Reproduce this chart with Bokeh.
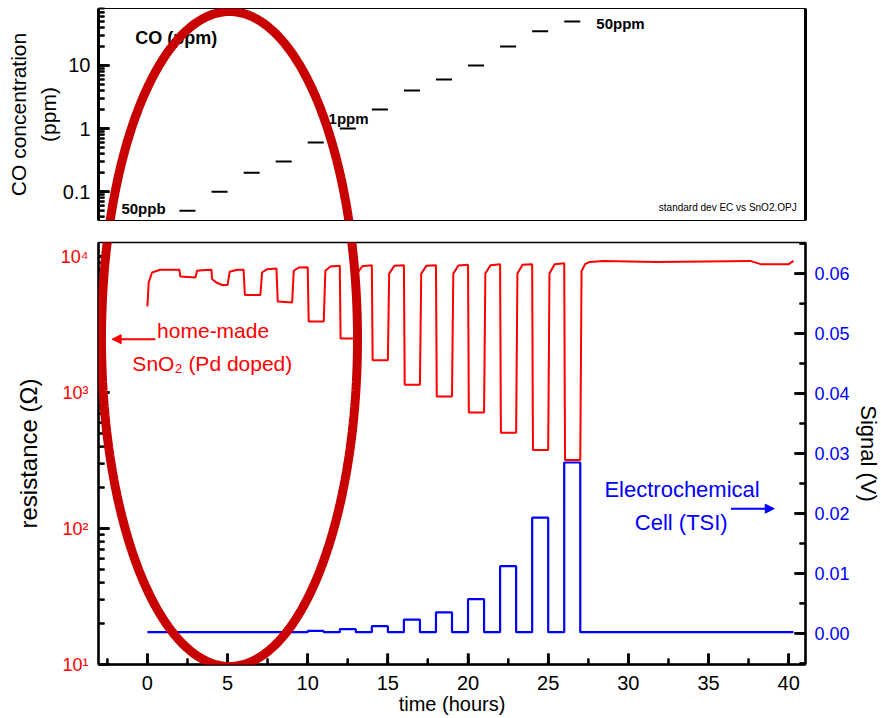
import math
from bokeh.plotting import figure
from bokeh.layouts import column
from bokeh.models import (Range1d, LinearAxis, LinearScale, SingleIntervalTicker, FixedTicker,
                          NumeralTickFormatter, CustomJSTickFormatter, Label, Arrow,
                          NormalHead, PolyAnnotation)
from bokeh.embed import file_html
from bokeh.resources import INLINE

FONT = "Liberation Sans"
RED = "#ff0000"
BLUE = "#0000ff"

# ---------------- data ----------------
exp_start = [2, 4, 6, 8, 10, 12, 14, 16, 18, 20, 22, 24, 26]          # hours
exp_len = 1.0
co_ppm = [0.05, 0.1, 0.2, 0.3, 0.6, 1, 2, 4, 6, 10, 20, 35, 50]

# SnO2 resistance trace (ohm), vertices
res_t = [0.00, 0.08, 0.29, 0.8, 2.0,
         2.05, 3.0, 3.1, 3.4, 4.0,
         4.03, 4.3, 4.66, 5.0, 5.13, 5.6, 6.0,
         6.08, 7.05, 7.15, 7.47, 8.05,
         8.13, 9.03, 9.13, 9.44, 10.0,
         10.06, 11.0, 11.1, 11.42, 12.0,
         12.05, 13.0, 13.08, 13.4, 14.0,
         14.05, 15.0, 15.08, 15.4, 16.0,
         16.05, 17.0, 17.08, 17.4, 18.0,
         18.05, 19.0, 19.08, 19.4, 20.0,
         20.05, 21.0, 21.08, 21.4, 22.0,
         22.05, 23.0, 23.08, 23.4, 24.0,
         24.05, 25.0, 25.08, 25.4, 26.0,
         26.05, 27.0, 27.08, 27.3, 27.6, 28.45, 31.8, 37.6, 38.25, 40.0, 40.3]
res_ohm = [4300, 6450, 7640, 8000, 8000,
           7150, 7030, 7870, 7950, 8000,
           6840, 6450, 6180, 6180, 7730, 8000, 8000,
           5220, 5220, 7640, 8090, 8170,
           4670, 4600, 7870, 8320, 8350,
           3330, 3330, 7870, 8450, 8550,
           2500, 2500, 7500, 8500, 8650,
           1730, 1730, 7500, 8550, 8650,
           1140, 1140, 7500, 8550, 8650,
           935, 935, 7500, 8600, 8700,
           715, 715, 7500, 8650, 8800,
           506, 506, 7500, 8700, 8800,
           378, 378, 7500, 8800, 8950,
           319, 319, 7800, 8800, 9140, 9300, 9140, 9300, 8800, 8800, 9300]

# Electrochemical cell signal (V)
sig_base = 0.0002
sig_level = [0.0002, 0.0002, 0.0002, 0.0002, 0.0004, 0.0007, 0.0012,
             0.0023, 0.0035, 0.0057, 0.0112, 0.0193, 0.0285]
sig_t0, sig_t1 = 0.0, 40.3

# axis tick positions
x_major = [0, 5, 10, 15, 20, 25, 30, 35, 40]
x_minor = [-2.5, 2.5, 7.5, 12.5, 17.5, 22.5, 27.5, 32.5, 37.5]
sig_major = [0.0, 0.01, 0.02, 0.03, 0.04, 0.05, 0.06]
sig_minor = [-0.005, 0.005, 0.015, 0.025, 0.035, 0.045, 0.055, 0.065]
res_major = [10, 100, 1000, 10000]
co_major = [0.1, 1, 10]

X0, X1 = -3.05, 41.05
RES0, RES1 = 10, 12700
CO0, CO1 = 0.035, 80
SIG0, SIG1 = -0.0052, 0.0652


def log_minor(lo, hi):
    out = []
    e = math.floor(math.log10(lo))
    while 10 ** e < hi:
        for m in range(2, 10):
            v = m * 10 ** e
            if lo < v < hi:
                out.append(v)
        e += 1
    return out


# ---------------- build the step trace for the signal ----------------
sig_t = [sig_t0]
sig_v = [sig_base]
for t0, lv in zip(exp_start, sig_level):
    sig_t += [t0, t0, t0 + exp_len, t0 + exp_len]
    sig_v += [sig_base, lv, lv, sig_base]
sig_t.append(sig_t1)
sig_v.append(sig_base)

x_rng = Range1d(X0, X1)


def style_axis(a, label_size, tick_size, tick_color="black"):
    a.axis_label_text_font = FONT
    a.axis_label_text_font_style = "normal"
    a.axis_label_text_color = "black"
    a.axis_label_text_font_size = label_size
    a.major_label_text_font = FONT
    a.major_label_text_font_size = tick_size
    a.major_label_text_color = tick_color
    a.axis_line_color = "black"
    a.axis_line_width = 2.5
    a.major_tick_line_color = "black"
    a.minor_tick_line_color = "black"
    a.major_tick_in = 11
    a.major_tick_out = 0
    a.minor_tick_in = 6
    a.minor_tick_out = 0
    a.major_tick_line_width = 2.5
    a.minor_tick_line_width = 2


def ticks(p, xs, ys, angle, length, width, rng=None):
    kw = dict(y_range_name=rng) if rng else {}
    p.ray(x=xs, y=ys, length=length, angle=angle, length_units="screen",
          line_color="black", line_width=width, **kw)


def make_fig(fh, yr, mb_top, mb_bottom, **kw):
    p = figure(frame_width=707, frame_height=fh, x_range=x_rng, y_range=yr,
               y_axis_type="log", toolbar_location=None, output_backend="svg",
               min_border_left=98, min_border_right=76, min_border_top=mb_top,
               min_border_bottom=mb_bottom, title=None, **kw)
    p.grid.visible = False
    p.outline_line_color = "black"
    p.background_fill_color = None
    p.border_fill_color = None
    return p


# ---------------- top panel ----------------
top = make_fig(212, Range1d(CO0, CO1), 8, 10, x_axis_location=None)
top.outline_line_width = 1.2

ya = top.yaxis[0]
style_axis(ya, "21px", "20px")
ya.axis_label = "CO concentration\n(ppm)"
ya.axis_label_text_line_height = 1.3
ya.axis_label_standoff = 0
ya.major_label_standoff = 8
ya.axis_line_width = 3
ya.formatter = CustomJSTickFormatter(code="return tick >= 1 ? tick.toFixed(0) : tick.toPrecision(1);")

top_r = LinearAxis(ticker=FixedTicker(ticks=[]), axis_line_width=3, axis_line_color="black",
                   major_tick_line_color=None, minor_tick_line_color=None)
top.add_layout(top_r, "right")

co_minor = log_minor(CO0, CO1)
ticks(top, [X0] * len(co_major), co_major, 0, 11, 2.5)
ticks(top, [X0] * len(co_minor), co_minor, 0, 6, 2)

top.segment(x0=exp_start, x1=[t + exp_len for t in exp_start], y0=co_ppm, y1=co_ppm,
            line_color="black", line_width=2)


def lab(p, x, y, text, size, color="black", bold=False, align="left", rng=None):
    kw = dict(x=x, y=y, text=text, text_font=FONT, text_font_size=size,
              text_color=color, text_align=align, text_baseline="middle",
              text_font_style="bold" if bold else "normal")
    if rng:
        kw["y_range_name"] = rng
    p.add_layout(Label(**kw))


lab(top, -0.75, 27, "CO (ppm)", "18px", bold=True)
lab(top, -1.62, 0.054, "50ppb", "15px", bold=True)
lab(top, 11.3, 1.44, "1ppm", "15px", bold=True)
lab(top, 28.0, 46.5, "50ppm", "15px", bold=True)
lab(top, 40.5, 0.056, "standard dev EC vs SnO2.OPJ", "10px", align="right")

# ---------------- bottom panel ----------------
bot = make_fig(422, Range1d(RES0, RES1), 12, 54)
bot.outline_line_width = 1.5
bot.extra_y_ranges = {"sig": Range1d(SIG0, SIG1)}
bot.extra_y_scales = {"sig": LinearScale()}

xa = bot.xaxis[0]
style_axis(xa, "20px", "20px")
xa.ticker = SingleIntervalTicker(interval=5, num_minor_ticks=2)
xa.axis_label = "time (hours)"
xa.axis_label_standoff = 0
xa.major_label_standoff = 11

yl = bot.yaxis[0]
style_axis(yl, "24px", "18px", RED)
yl.axis_label = "resistance (Ω)"
yl.axis_label_standoff = 16
yl.major_label_standoff = 10
yl.formatter = CustomJSTickFormatter(code="""
const sup = {"0":"\u2070","1":"\u00b9","2":"\u00b2","3":"\u00b3","4":"\u2074","5":"\u2075"};
const e = Math.round(Math.log10(tick));
return "10" + String(e).split("").map(c => sup[c] || c).join("");
""")

yr = LinearAxis(y_range_name="sig", ticker=SingleIntervalTicker(interval=0.01, num_minor_ticks=2),
                formatter=NumeralTickFormatter(format="0.00"))
style_axis(yr, "22px", "18px", BLUE)
yr.axis_label = "Signal (V)"
yr.axis_label_standoff = 3
yr.major_label_standoff = 9
bot.add_layout(yr, "right")

# inward ticks on the three axes of the lower panel
res_minor = log_minor(RES0, RES1)
ticks(bot, x_major, [RES0] * len(x_major), math.pi / 2, 11, 2.5)
ticks(bot, x_minor, [RES0] * len(x_minor), math.pi / 2, 6, 2)
ticks(bot, [X0] * len(res_major), res_major, 0, 11, 2.5)
ticks(bot, [X0] * len(res_minor), res_minor, 0, 6, 2)
ticks(bot, [X1] * len(sig_major), sig_major, math.pi, 11, 2.5, rng="sig")
ticks(bot, [X1] * len(sig_minor), sig_minor, math.pi, 6, 2, rng="sig")

bot.line(sig_t, sig_v, y_range_name="sig", line_color=BLUE, line_width=2.2)
bot.line(res_t, res_ohm, line_color=RED, line_width=2)

lab(bot, 4.1, 2870, "home-made", "21px", color=RED, align="center")
lab(bot, 4.05, 1650, "SnO₂ (Pd doped)", "21px", color=RED, align="center")
bot.add_layout(Arrow(end=NormalHead(size=9, fill_color=RED, line_color=RED),
                     x_start=0.5, y_start=2470, x_end=-2.2, y_end=2470,
                     line_color=RED, line_width=2))

lab(bot, 33.35, 0.0240, "Electrochemical", "22px", color=BLUE, align="center", rng="sig")
lab(bot, 33.3, 0.0185, "Cell (TSI)", "22px", color=BLUE, align="center", rng="sig")
bot.add_layout(Arrow(end=NormalHead(size=9, fill_color=BLUE, line_color=BLUE),
                     x_start=36.4, y_start=0.0208, x_end=39.1, y_end=0.0208,
                     y_range_name="sig", line_color=BLUE, line_width=2))

# ---------------- highlight ellipse spanning both panels ----------------
cx, cy, ax_, by_ = 229, 338.5, 128, 327.5
ell_x = [cx + ax_ * math.cos(2 * math.pi * k / 240) for k in range(241)]
ell_y = [cy + by_ * math.sin(2 * math.pi * k / 240) for k in range(241)]
ECOL = "#c80000"
top.add_layout(PolyAnnotation(xs=ell_x, ys=ell_y, xs_units="canvas", ys_units="canvas",
                              fill_alpha=0, line_color=ECOL, line_alpha=1.0, line_width=9))
bot.add_layout(PolyAnnotation(xs=ell_x, ys=[v - 230 for v in ell_y], xs_units="canvas",
                              ys_units="canvas", fill_alpha=0, line_color=ECOL,
                              line_alpha=1.0, line_width=9))

layout = column(top, bot, spacing=0)
open("out.html", "w").write(file_html(layout, INLINE))
